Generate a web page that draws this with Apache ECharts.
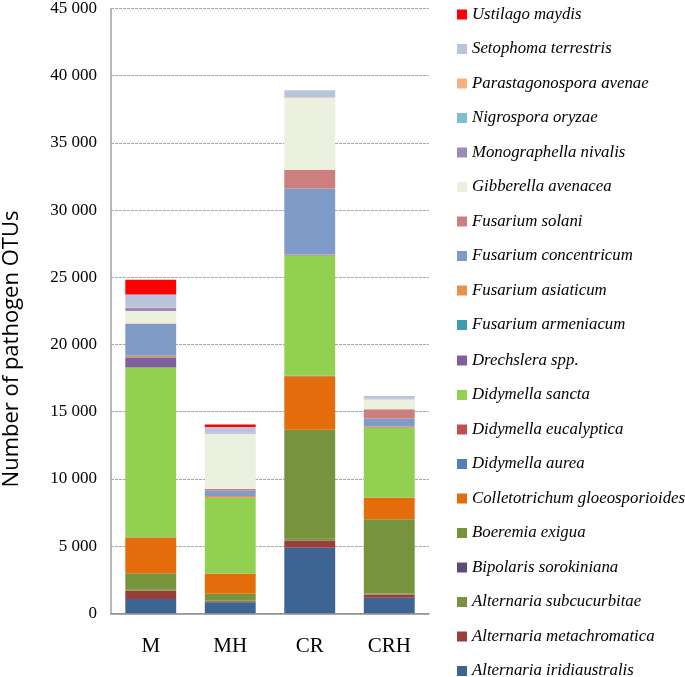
<!DOCTYPE html>
<html><head><meta charset="utf-8">
<script src="https://cdn.jsdelivr.net/npm/echarts@6/dist/echarts.min.js"></script>
<style>html,body{margin:0;padding:0;background:#fff}#c{width:685px;height:677px}</style>
</head><body><div id="c"></div>
<script>
const categories = ['M', 'MH', 'CR', 'CRH'];
const yTicks = [0, 5000, 10000, 15000, 20000, 25000, 30000, 35000, 40000, 45000];
// stacked from bottom to top
const alternariaIridiaustralis = [1060, 820, 4870, 1160];
const alternariaMetachromatica = [615, 70, 520, 220];
const alternariaSubcucurbitae = [60, 40, 130, 80];
const bipolarisSorokiniana = [20, 10, 30, 20];
const boeremiaExigua = [1230, 520, 8100, 5510];
const colletotrichumGloeosporioides = [2640, 1480, 3980, 1600];
const didymellaAurea = [20, 10, 20, 10];
const didymellaEucalyptica = [20, 10, 20, 10];
const didymellaSancta = [12630, 5615, 8910, 5190];
const drechsleraSpp = [740, 30, 40, 40];
const fusariumArmeniacum = [20, 10, 20, 10];
const fusariumAsiaticum = [100, 120, 60, 60];
const fusariumConcentricum = [2370, 420, 4900, 580];
const fusariumSolani = [40, 100, 1410, 690];
const gibberellaAvenacea = [920, 4120, 5360, 740];
const monographellaNivalis = [250, 60, 20, 20];
const nigrosporaOryzae = [20, 10, 10, 10];
const parastagonosporaAvenae = [20, 10, 10, 10];
const setophomaTerrestris = [950, 400, 500, 200];
const ustilagoMaydis = [1090, 200, 0, 0];

const seriesDefs = [
  ['Alternaria iridiaustralis', alternariaIridiaustralis, '#3E6494'],
  ['Alternaria metachromatica', alternariaMetachromatica, '#9A3D3B'],
  ['Alternaria subcucurbitae', alternariaSubcucurbitae, '#78923F'],
  ['Bipolaris sorokiniana', bipolarisSorokiniana, '#604A7B'],
  ['Boeremia exigua', boeremiaExigua, '#77933C'],
  ['Colletotrichum gloeosporioides', colletotrichumGloeosporioides, '#E46C0A'],
  ['Didymella aurea', didymellaAurea, '#4F81BD'],
  ['Didymella eucalyptica', didymellaEucalyptica, '#C0504D'],
  ['Didymella sancta', didymellaSancta, '#92D050'],
  ['Drechslera spp.', drechsleraSpp, '#7F5F9F'],
  ['Fusarium armeniacum', fusariumArmeniacum, '#3E9BB4'],
  ['Fusarium asiaticum', fusariumAsiaticum, '#E8914A'],
  ['Fusarium concentricum', fusariumConcentricum, '#7F9CC9'],
  ['Fusarium solani', fusariumSolani, '#CD7F7F'],
  ['Gibberella avenacea', gibberellaAvenacea, '#EBF0DF'],
  ['Monographella nivalis', monographellaNivalis, '#9E8ABA'],
  ['Nigrospora oryzae', nigrosporaOryzae, '#7CC0CF'],
  ['Parastagonospora avenae', parastagonosporaAvenae, '#F9AF80'],
  ['Setophoma terrestris', setophomaTerrestris, '#B8C4DE'],
  ['Ustilago maydis', ustilagoMaydis, '#FF0000']
];

const legendNames = seriesDefs.map(s => s[0]).reverse();
const legendBase = {
  orient: 'vertical', left: 452, height: 400,
  itemWidth: 10, itemHeight: 10, itemGap: 17.5, itemTextGap: 4, icon: 'rect',
  textStyle: {fontFamily: 'Liberation Serif', fontStyle: 'italic', fontSize: 16.8, color: '#000'},
  selectedMode: false
};

const chart = echarts.init(document.getElementById('c'), null, {renderer: 'canvas'});
const fmt = v => v === 0 ? '0' : String(v).replace(/\B(?=(\d{3})+(?!\d))/g, ' ');
chart.setOption({
  animation: false,
  grid: {left: 111, right: 256, top: 6.7, bottom: 63.7},
  legend: [
    Object.assign({}, legendBase, {top: 1, data: legendNames.slice(0, 10)}),
    Object.assign({}, legendBase, {top: 1 + 10 * 34.6, data: legendNames.slice(10)})
  ],
  xAxis: {
    type: 'category', data: categories,
    axisLine: {lineStyle: {color: '#8C8C8C', width: 1.5}},
    axisTick: {show: false},
    axisLabel: {fontFamily: 'Liberation Serif', fontSize: 21, color: '#000', margin: 23}
  },
  yAxis: {
    type: 'value', min: yTicks[0], max: yTicks[yTicks.length - 1], interval: 5000,
    axisLine: {show: true, lineStyle: {color: '#A0A0A0', width: 1.5}},
    axisTick: {show: false},
    splitLine: {lineStyle: {type: [3, 1], color: '#A6A6A6', width: 1}},
    axisLabel: {fontFamily: 'Liberation Serif', fontSize: 17, color: '#000', margin: 14, formatter: fmt}
  },
  graphic: [{
    type: 'text', x: 12, y: 349, rotation: Math.PI / 2,
    style: {text: 'Number of pathogen OTUs', fontFamily: 'Open Sans', fontSize: 22, fill: '#000', align: 'center', verticalAlign: 'middle'}
  }],
  series: seriesDefs.map(s => ({
    name: s[0], type: 'bar', stack: 'total', data: s[1], barWidth: '64%',
    itemStyle: {color: s[2]}
  }))
});
</script></body></html>
